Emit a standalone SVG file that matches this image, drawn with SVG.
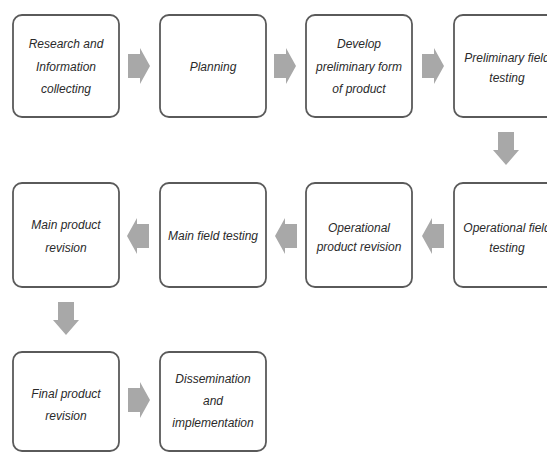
<svg xmlns="http://www.w3.org/2000/svg" xmlns:xlink="http://www.w3.org/1999/xlink" width="547" height="452" viewBox="0 0 547 452">
<style>
.box{fill:#ffffff;stroke:#5a5a5a;stroke-width:1.8}
.t{font-family:"Liberation Sans",Arial,sans-serif;font-style:italic;font-size:12px;fill:#2a2a2a;text-anchor:middle}
.arr{fill:#a8a8a8}
</style>
<defs>
<path id="ar" class="arr" d="M-11,-12 H1 V-18 L11,0 L1,18 V12 H-11 Z"/>
<path id="ad" class="arr" d="M-8,-17 H8 V1 H13 L0,16 L-13,1 H-8 Z"/>
</defs>
<rect width="547" height="452" fill="#ffffff"/>
<g id="connectors">
<use xlink:href="#ar" transform="translate(139,66)"/>
<use xlink:href="#ar" transform="translate(285,66)"/>
<use xlink:href="#ar" transform="translate(433,66)"/>
<use xlink:href="#ad" transform="translate(506,149)"/>
<use xlink:href="#ar" transform="translate(433,236) rotate(180)"/>
<use xlink:href="#ar" transform="translate(286,236) rotate(180)"/>
<use xlink:href="#ar" transform="translate(138,236) rotate(180)"/>
<use xlink:href="#ad" transform="translate(66,319)"/>
<use xlink:href="#ar" transform="translate(139,400)"/>
</g>
<g id="n1"><rect class="box" x="13" y="15" width="106" height="102" rx="9"/>
<text class="t" x="66" y="48">Research and</text><text class="t" x="66" y="71">Information</text><text class="t" x="66" y="93">collecting</text></g>
<g id="n2"><rect class="box" x="160" y="15" width="106" height="102" rx="9"/>
<text class="t" x="213" y="71">Planning</text></g>
<g id="n3"><rect class="box" x="306" y="15" width="106" height="102" rx="9"/>
<text class="t" x="359" y="48">Develop</text><text class="t" x="359" y="71">preliminary form</text><text class="t" x="359" y="93">of product</text></g>
<g id="n4"><rect class="box" x="454" y="15" width="106" height="102" rx="9"/>
<text class="t" x="507" y="62">Preliminary field</text><text class="t" x="507" y="82">testing</text></g>
<g id="n5"><rect class="box" x="454" y="183" width="106" height="104" rx="9"/>
<text class="t" x="507" y="232">Operational field</text><text class="t" x="507" y="252">testing</text></g>
<g id="n6"><rect class="box" x="306" y="183" width="106" height="104" rx="9"/>
<text class="t" x="359" y="232">Operational</text><text class="t" x="359" y="251">product revision</text></g>
<g id="n7"><rect class="box" x="160" y="183" width="106" height="104" rx="9"/>
<text class="t" x="213" y="240">Main field testing</text></g>
<g id="n8"><rect class="box" x="13" y="183" width="106" height="104" rx="9"/>
<text class="t" x="66" y="229">Main product</text><text class="t" x="66" y="252">revision</text></g>
<g id="n9"><rect class="box" x="13" y="352" width="106" height="99" rx="9"/>
<text class="t" x="66" y="398">Final product</text><text class="t" x="66" y="420">revision</text></g>
<g id="n10"><rect class="box" x="160" y="352" width="106" height="99" rx="9"/>
<text class="t" x="213" y="383">Dissemination</text><text class="t" x="213" y="405">and</text><text class="t" x="213" y="427">implementation</text></g>
</svg>
